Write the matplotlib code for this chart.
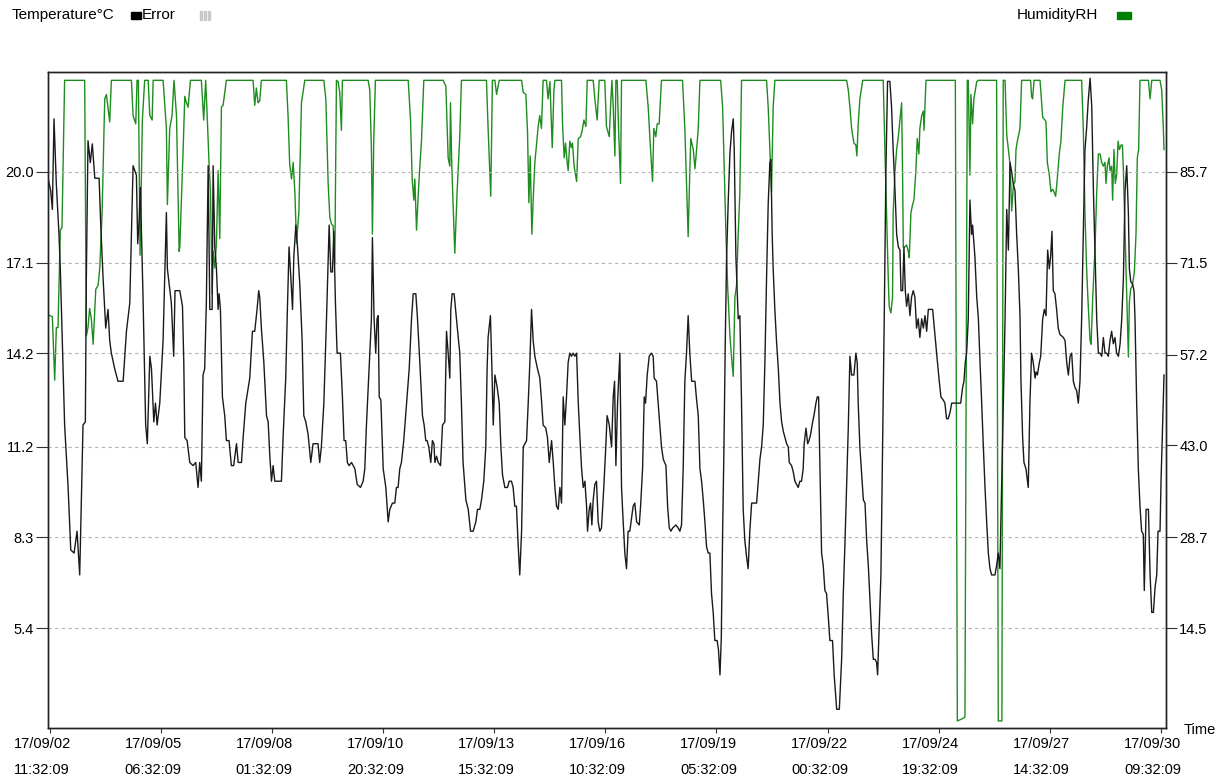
import matplotlib
matplotlib.use("Agg")
import matplotlib.pyplot as plt
import matplotlib.transforms as mtransforms
from matplotlib.patches import Rectangle
from datetime import datetime, timedelta

plt.rcParams['font.family'] = ['Liberation Sans', 'DejaVu Sans']

# hours after 17/09/02 11:32:09
temp_hours = [
    -1.3, 0.3, 1.3, 2.3, 3.7, 5.3, 6.1, 8.7, 10.8, 12.4,
    14.4, 16.2, 17.8, 19.8, 21.2, 21.8, 22.8, 24.2, 25.4, 26.9,
    29.5, 30.5, 31.9, 33.5, 34.9, 35.9, 36.9, 38.9, 40.9, 44.0,
    46.0, 48.0, 50.0, 52.0, 52.8, 53.6, 54.4, 56.0, 57.6, 58.6,
    60.1, 61.1, 62.5, 63.5, 64.5, 66.1, 68.1, 70.1, 70.7, 73.1,
    74.5, 75.3, 77.8,
    78.2, 79.8, 80.6, 81.2, 82.6, 84.2, 86.2, 87.8, 89.2, 90.2,
    91.2, 92.2, 93.2, 94.2, 95.3, 96.3, 97.7, 98.3, 99.3, 100.3,
    101.3, 101.9, 102.7, 103.9, 105.3, 106.3, 107.9, 109.3, 110.7, 112.4,
    113.4, 115.4, 116.4, 118.0, 120.4, 122.0, 123.4, 124.8, 125.8, 126.4,
    127.4, 128.9, 130.5, 131.5, 132.5, 133.5, 134.5, 135.5, 139.5, 140.5,
    142.1, 143.1, 144.1, 145.2, 146.2, 147.0, 148.2, 149.2, 150.6, 152.0,
    153.0, 154.2, 155.6, 157.2, 158.6, 161.6,
    162.6, 163.6, 165.1, 166.7, 168.3, 169.3, 170.3, 171.1, 172.1, 173.1,
    175.1, 176.3, 177.3, 178.3, 179.3, 180.3, 181.8, 183.8, 185.2, 187.2,
    188.8, 189.8, 190.8, 192.4, 193.8, 194.4, 195.4, 196.4, 197.2, 197.9,
    198.5, 199.5, 200.9, 202.5, 203.9, 204.9, 206.5, 207.9, 208.9, 209.9,
    210.9, 211.9, 213.3, 215.0, 216.6, 218.0, 219.0, 220.6, 221.6, 223.0,
    224.6, 225.6, 226.6, 227.4, 228.4, 229.6, 230.6, 231.5, 232.1, 233.1,
    234.1, 235.5, 236.7, 238.1, 239.1, 240.1, 241.1, 241.7, 242.5, 243.7, 245.1,
    247.1, 248.1, 249.1, 250.8, 252.2, 253.6, 255.2, 256.8, 257.8, 259.2,
    260.2, 261.6, 262.8, 263.6, 264.2, 265.6, 266.4, 267.3, 268.3, 269.7,
    270.9, 271.9, 272.9, 274.3, 275.9, 276.9, 278.3, 279.3, 280.3, 281.3,
    282.3, 283.3, 284.4, 285.4, 286.4, 287.4, 288.4, 289.4, 290.4, 291.4,
    292.4, 294.0, 295.4, 296.4, 297.4, 299.0, 300.0, 301.1, 302.5, 303.5,
    304.5, 305.5, 306.5, 307.5, 308.5, 309.5, 310.5, 311.5, 312.5, 313.5,
    314.5, 315.5, 316.5, 317.6, 318.6, 319.6, 320.6, 321.6, 322.6, 323.6,
    324.2, 325.2, 326.0, 326.8, 327.6, 328.6, 329.6, 330.6,
    331.6, 332.6, 334.0, 335.2, 336.0, 337.3, 338.7, 339.7, 340.5, 341.3,
    342.3, 343.7, 344.7, 345.7, 346.7, 347.7, 348.7, 349.7, 350.7, 351.7,
    352.7, 353.8, 355.4, 356.2, 357.4, 358.4, 359.2, 360.2, 361.4, 362.8,
    363.8, 364.4, 365.8, 366.8, 367.8, 368.8, 369.9, 371.5, 372.5, 373.5,
    374.5, 375.5, 377.5, 378.9, 379.9, 380.9, 381.9, 382.9, 383.9, 384.9,
    385.9, 387.0, 388.0, 389.0, 390.0, 391.0, 392.0, 393.0, 394.0, 395.0,
    396.0, 397.0, 398.0, 399.0, 400.0, 401.0, 402.4, 403.2, 404.1, 404.9,
    405.7, 406.5, 407.3, 408.1, 409.1, 410.1, 411.1, 412.1, 412.7, 413.7, 415.1,
    416.1, 417.1, 418.1, 419.1, 420.1, 421.1, 422.1, 423.2, 426.2, 427.2,
    428.2, 429.2, 430.2, 431.2, 432.2, 433.2, 434.2, 434.8, 435.6, 436.2,
    437.2, 438.2, 439.3, 440.3, 441.3, 442.3, 443.3, 444.3, 445.3, 445.9,
    447.3, 448.3, 449.3, 450.3, 451.3, 452.3, 453.3, 454.3, 454.9, 456.0,
    457.0, 457.8, 458.8, 460.0, 460.8, 462.0, 462.8, 463.6, 464.4, 465.4,
    466.4, 467.4, 468.4, 469.4, 470.4, 472.0, 473.0, 474.5, 476.1, 477.5,
    478.5, 479.5, 480.5, 481.5, 482.5, 483.5, 484.9, 486.1, 486.9, 487.5,
    488.5, 489.5, 490.6, 491.6, 492.6, 493.6, 494.6, 495.6, 496.6, 497.6, 498.6, 499.2,
    501.2, 502.2, 503.2, 504.2, 505.2, 506.6, 507.6, 508.6, 509.7, 510.7,
    511.7, 512.7, 513.3, 514.3, 515.1, 515.9, 516.7, 517.7, 518.7, 519.7,
    520.7, 521.7, 522.7, 523.7, 524.7, 525.8, 526.8, 527.8, 528.8, 529.8,
    530.8, 532.4, 533.4, 534.8, 536.4, 537.4, 538.8, 539.8, 540.8, 541.8,
    542.9, 543.9, 549.3, 550.5, 551.3, 552.1, 552.9, 553.9, 554.9, 555.9,
    556.5, 557.9, 559.0, 560.0, 561.0, 562.0, 563.0, 564.0, 565.0, 566.0,
    567.0, 568.0, 570.0, 571.0, 572.0, 573.0, 574.0, 575.0, 576.1, 577.1,
    578.1, 579.1, 580.1, 581.1, 582.1, 583.1, 584.1,
    585.1, 585.7, 586.7, 587.5, 588.7, 590.1, 591.1, 592.1, 593.1, 594.2,
    594.8, 595.6, 596.8, 597.6, 598.8, 599.8, 600.8, 601.8, 602.8, 603.6,
    604.4, 605.2, 606.2, 607.2, 608.2, 609.2, 611.3, 612.3, 613.3, 614.3,
    615.3, 616.3, 617.3, 618.3, 619.3, 620.3, 621.3, 622.3, 623.3, 624.3,
    625.3, 626.3, 627.4, 628.4, 629.4, 630.4, 631.4, 632.4, 633.4, 634.4,
    635.4, 636.4, 637.4, 638.4, 639.4, 640.4, 641.4, 642.4, 643.4, 644.5,
    645.5, 646.5, 647.5, 648.5, 649.5, 650.5, 651.1, 651.9, 653.1, 653.9,
    654.5, 655.5, 656.5, 657.5, 658.5, 659.5, 660.1, 661.2, 662.6, 663.6,
    664.6, 665.6, 666.6, 667.6, 668.4, 669.6, 670.2, 671.0, 672.0,
]
temp_c = [
    19.8, 19.4, 18.8, 21.7, 19.6, 18.0, 16.9, 11.9, 9.9, 7.9,
    7.8, 8.5, 7.1, 11.9, 12.0, 16.6, 21.0, 20.3, 20.9, 19.8,
    19.8, 18.3, 16.6, 15.0, 15.6, 14.6, 14.2, 13.7, 13.3, 13.3,
    14.9, 15.8, 20.2, 19.9, 17.7, 18.4, 19.5, 16.0, 11.9, 11.3,
    14.1, 13.7, 12.0, 12.6, 11.9, 12.6, 14.6, 18.7, 16.9, 15.8,
    14.1, 16.2, 16.2,
    16.2, 15.7, 13.9, 11.5, 11.4, 10.7, 10.6, 10.7, 9.9, 10.7,
    10.1, 13.5, 13.7, 15.8, 20.2, 15.6, 15.6, 20.2, 17.6, 16.9,
    15.6, 16.1, 15.6, 12.8, 12.2, 11.4, 11.4, 10.6, 10.6, 11.3,
    10.7, 10.7, 11.5, 12.6, 13.4, 14.9, 14.9, 15.6, 16.2, 16.0,
    15.0, 13.9, 12.2, 12.0, 10.9, 10.1, 10.6, 10.1, 10.1, 11.5,
    13.4, 15.6, 17.6, 16.6, 15.6, 17.3, 18.3, 17.6, 16.4, 14.6,
    12.2, 12.0, 11.6, 10.7, 11.3, 11.3,
    10.7, 11.2, 12.6, 15.3, 18.3, 16.8, 16.8, 18.1, 15.8, 14.2,
    14.2, 12.8, 11.4, 11.4, 10.7, 10.6, 10.7, 10.5, 10.0, 9.9,
    10.1, 10.5, 11.9, 13.7, 15.3, 17.9, 15.3, 14.2, 15.3, 15.4,
    12.8, 12.7, 10.5, 9.9, 8.8, 9.2, 9.4, 9.4, 9.9, 9.9,
    10.5, 10.7, 11.4, 12.6, 13.7, 15.3, 16.1, 16.1, 15.3, 13.9,
    12.2, 11.9, 11.4, 11.4, 11.2, 10.7, 11.4, 11.3, 10.7, 10.9,
    10.7, 10.6, 11.9, 12.0, 14.9, 14.2, 13.4, 15.6, 16.1, 16.1, 15.3,
    14.2, 12.6, 10.7, 9.5, 9.2, 8.5, 8.5, 8.8, 9.2, 9.2,
    9.5, 10.1, 11.2, 13.7, 14.7, 15.4, 13.9, 11.9, 13.5, 13.1,
    12.6, 11.2, 10.3, 9.9, 9.9, 10.1, 10.1, 9.9, 9.3, 9.3,
    8.1, 7.1, 8.5, 11.2, 11.3, 11.4, 12.6, 13.9, 15.6, 14.6,
    14.1, 13.7, 13.4, 12.7, 11.9, 11.8, 11.5, 10.7, 11.4, 10.7,
    9.9, 9.3, 9.2, 9.9, 9.4, 12.8, 11.9, 12.8, 13.9, 14.2,
    14.1, 14.2, 14.1, 14.2, 12.6, 11.5, 10.5, 9.9, 10.1, 9.3,
    8.5, 9.2, 9.4, 8.7, 9.5, 10.0, 10.1, 8.8,
    8.5, 8.6, 9.9, 11.2, 12.2, 11.9, 11.2, 12.8, 13.3, 10.6,
    12.6, 14.2, 9.9, 8.8, 7.8, 7.3, 8.5, 8.5, 8.9, 9.3,
    9.4, 8.8, 8.7, 9.3, 10.5, 12.8, 12.6, 13.5, 14.1, 14.2,
    14.1, 13.4, 13.3, 12.6, 11.9, 11.2, 10.8, 10.6, 9.3, 8.6,
    8.5, 8.6, 8.7, 8.6, 8.5, 8.7, 10.5, 13.3, 14.2, 15.4,
    14.2, 13.3, 13.3, 13.3, 12.7, 12.2, 10.5, 10.1, 9.5, 8.8,
    8.0, 7.8, 7.8, 6.5, 5.9, 5.0, 5.0, 4.7, 3.9, 5.1,
    8.5, 11.2, 14.6, 17.3, 19.1, 20.6, 21.3, 21.7, 20.7, 17.3, 15.3,
    15.4, 12.6, 9.2, 8.2, 7.7, 7.3, 8.5, 9.4, 9.4, 10.1,
    10.8, 11.2, 11.9, 13.9, 16.6, 19.0, 20.3, 20.4, 18.0, 16.9,
    15.6, 14.6, 13.7, 12.6, 12.0, 11.7, 11.5, 11.3, 11.2, 10.7,
    10.6, 10.4, 10.1, 10.0, 9.9, 10.1, 10.1, 10.5, 11.3, 11.8,
    11.3, 11.4, 11.6, 12.0, 12.2, 12.6, 12.8, 12.8, 10.5, 7.8,
    7.4, 6.6, 6.5, 5.8, 5.0, 5.0, 3.9, 2.8, 2.8, 4.4,
    6.5, 8.1, 9.9, 11.8, 14.1, 13.5, 13.5, 14.2, 13.9, 12.6,
    11.2, 10.4, 9.5, 9.4, 8.2, 7.4, 6.3, 5.2, 4.4, 4.4, 4.3, 3.9,
    7.1, 11.2, 15.3, 20.0, 22.9, 22.9, 22.1, 20.7, 19.4, 18.0,
    17.6, 17.5, 16.2, 16.2, 17.6, 16.2, 15.7, 16.1, 15.4, 16.0,
    16.2, 16.0, 15.0, 15.3, 14.7, 15.3, 15.0, 15.4, 14.9, 15.6,
    15.6, 15.6, 15.0, 14.2, 13.3, 12.8, 12.7, 12.6, 12.1, 12.1,
    12.3, 12.6, 12.6, 13.1, 13.3, 13.9, 14.2, 15.3, 19.1, 18.0,
    18.3, 17.3, 16.0, 15.3, 13.9, 12.6, 11.2, 9.9, 8.8, 7.8,
    7.3, 7.1, 7.1, 7.4, 7.8, 7.3, 9.9, 12.6, 15.3, 18.8,
    17.5, 20.3, 20.0, 19.6, 19.4, 18.0, 16.9,
    15.4, 13.3, 11.5, 10.7, 10.5, 9.9, 12.6, 14.2, 13.9, 13.4,
    13.6, 13.5, 13.9, 14.1, 15.3, 15.6, 15.4, 17.5, 16.9, 17.3,
    18.1, 16.2, 16.1, 15.6, 15.0, 14.8, 14.7, 14.6, 13.9, 13.5,
    14.1, 14.2, 13.3, 13.1, 13.0, 12.6, 13.3, 15.3, 18.0, 20.7,
    21.4, 22.3, 23.0, 22.1, 19.4, 17.3, 15.3, 14.2, 14.2, 14.1,
    14.7, 14.2, 14.2, 14.1, 14.6, 14.9, 14.5, 14.7, 14.2, 14.1,
    14.5, 15.3, 16.6, 19.4, 20.2, 18.7, 16.9, 16.5, 16.4, 16.2,
    15.3, 12.6, 10.5, 9.3, 8.5, 8.4, 6.6, 9.2, 9.2, 7.1,
    5.9, 5.9, 6.7, 7.1, 8.5, 8.5, 10.1, 11.6, 13.5,
]

hum_hours = [
    -1.3, 1.3, 2.7, 3.7, 4.7, 6.1, 7.1, 8.7, 20.8, 21.8,
    22.8, 23.8, 24.8, 25.9, 27.5, 28.9, 29.9, 31.3, 32.9, 33.9,
    35.9, 36.9, 49.0, 50.0, 51.6, 52.4, 53.2, 54.2, 55.6, 57.0,
    59.1, 60.1, 61.5, 62.1, 68.1, 70.1, 70.7, 72.1, 73.5, 74.7,
    76.2, 77.8,
    78.2, 80.2, 81.2, 82.2, 83.2, 84.6, 91.2, 92.6, 93.8, 94.6,
    95.9, 96.7, 97.7, 98.3, 99.3, 100.3, 101.3, 102.3, 103.3, 104.3,
    106.3, 122.4, 123.4, 124.4, 125.4, 126.4, 127.4, 142.5, 143.5, 144.5,
    145.6, 146.6, 147.6, 148.6, 150.0, 151.6, 153.6,
    165.1, 166.3, 167.7, 168.7, 169.7, 170.7, 171.7, 172.7, 173.7, 174.7,
    175.7, 176.3, 191.8, 192.8, 193.8, 194.4, 195.2, 196.2, 216.0, 217.4,
    218.4, 219.4, 220.0, 221.0, 222.0, 223.0, 224.0, 225.4, 237.1, 238.7,
    240.1, 241.1, 241.5, 242.3, 244.1, 245.5, 247.1,
    248.1, 263.2, 264.2, 265.8, 266.8, 268.3, 269.3, 270.9, 284.4, 285.4,
    287.0, 288.0, 288.8, 289.6, 290.6, 291.4, 292.4, 293.4, 294.4, 295.4,
    296.4, 297.4, 299.4, 300.4, 301.5, 302.9, 303.9, 304.5, 308.5, 309.1,
    310.1, 310.9, 311.9, 312.5, 313.5, 314.5, 315.1, 316.1, 317.6, 318.6,
    320.0, 321.0, 322.0, 323.2, 324.0, 327.6, 328.6, 330.0, 331.2,
    334.6, 335.6, 337.3, 338.3, 338.9, 339.7, 340.7, 341.3, 342.1, 342.9,
    344.1, 344.7, 359.4, 360.8, 362.2, 363.4, 364.2, 365.4, 366.2, 367.4,
    368.8, 381.5, 382.9, 383.9, 384.9, 385.9, 386.5, 388.0, 389.0, 390.0,
    391.0, 392.0, 404.5, 405.7, 406.7, 407.7, 408.7, 410.1, 411.3, 412.1,
    413.1, 414.1, 415.1, 416.1, 417.1,
    432.2, 433.2, 434.2, 435.2, 436.2, 437.2, 480.5, 481.5, 482.5, 483.5,
    484.9, 486.1, 486.7, 487.5, 488.5, 490.2,
    502.6, 503.6, 504.6, 505.6, 506.2, 507.2, 508.2, 508.6, 509.7, 510.7,
    511.7, 512.7, 513.7, 514.3, 514.7, 515.7, 516.7, 517.7, 518.3, 519.3,
    520.3, 521.1, 522.3, 523.1, 524.1, 524.7, 525.8, 526.8, 527.2, 528.4,
    546.1, 547.3, 549.9, 551.9, 553.3, 553.9, 554.9, 555.5, 556.5, 557.3,
    559.0, 560.0, 571.0, 572.0, 573.4, 574.2, 575.0, 576.1, 577.1, 578.1,
    579.1, 580.1, 581.1, 582.1, 582.7, 583.5, 585.1,
    586.1, 591.5, 592.1, 592.7, 593.6, 597.2, 598.8, 600.2, 600.8, 601.6,
    602.8, 603.8, 604.8, 605.6, 606.6, 607.6, 608.8, 609.8, 610.9, 612.3,
    622.3, 623.3, 624.3, 625.3, 626.3, 627.4, 628.0, 629.0, 630.4, 631.4,
    632.4, 633.4, 634.4, 635.4, 636.4, 637.0, 637.8, 638.8, 639.4, 640.4,
    641.0, 641.8, 642.6, 643.4, 644.3, 645.1, 646.1, 646.9, 647.5, 648.5,
    649.5, 650.5, 651.1, 651.9, 652.9, 654.1, 655.1, 655.9, 656.7, 657.5,
    662.6, 663.6, 664.6, 669.6, 670.6, 671.6, 672.0,
]
hum_rh = [
    63.4, 63.1, 53.2, 61.4, 61.4, 76.6, 77.0, 100, 100, 60.1,
    61.4, 64.4, 62.8, 58.8, 67.4, 68.0, 70.7, 79.3, 97.1, 97.8,
    93.5, 100, 100, 94.5, 93.2, 100, 100, 72.7, 93.8, 100,
    100, 94.5, 93.8, 100, 100, 92.5, 80.6, 92.5, 94.5, 100,
    94.5, 73.3,
    74.0, 89.2, 97.5, 96.5, 95.8, 100, 100, 93.8, 100, 95.2,
    86.6, 82.6, 66.7, 73.3, 70.7, 74.6, 85.9, 75.3, 95.8, 96.1,
    100, 100, 96.1, 98.8, 96.5, 96.8, 100, 100, 94.5, 86.9,
    84.6, 87.2, 82.6, 74.6, 79.3, 96.5, 100,
    100, 97.1, 83.9, 78.6, 77.6, 77.3, 71.3, 100, 99.8, 98.1,
    92.2, 100, 100, 98.5, 89.2, 76.0, 90.5, 100, 100, 93.8,
    84.6, 81.3, 84.6, 76.6, 81.9, 86.6, 90.5, 100, 100, 99.1,
    87.9, 86.6, 96.5, 86.6, 73.0, 82.6, 91.2,
    100, 100, 92.5, 81.9, 100, 100, 97.8, 100, 100, 98.1,
    97.8, 91.8, 80.9, 88.2, 76.0, 81.3, 87.2, 89.9, 92.8, 94.5,
    92.5, 100, 100, 97.1, 99.8, 89.5, 98.5, 100, 100, 93.2,
    87.9, 90.2, 87.2, 85.9, 90.5, 89.5, 90.2, 86.6, 84.2, 90.9,
    91.2, 92.2, 93.8, 92.8, 100, 100, 97.1, 93.8, 100,
    100, 92.8, 91.2, 97.1, 100, 95.8, 88.2, 100, 100, 92.5,
    83.9, 100, 100, 95.8, 89.2, 84.2, 92.5, 91.2, 93.2, 93.2,
    100, 100, 92.5, 83.9, 75.6, 85.9, 90.9, 89.2, 86.2, 89.2,
    92.5, 100, 100, 95.8, 85.9, 76.0, 68.0, 60.1, 56.1, 53.8,
    66.1, 68.0, 76.0, 82.6, 100,
    100, 95.8, 89.2, 82.6, 95.8, 100, 100, 98.5, 95.8, 92.5,
    90.2, 89.9, 88.2, 93.2, 97.1, 100,
    100, 89.2, 79.3, 69.3, 64.7, 63.7, 66.1, 79.3, 85.9, 89.2,
    91.2, 93.8, 96.5, 84.6, 74.0, 74.0, 74.3, 73.3, 72.3, 79.3,
    80.6, 81.3, 85.9, 90.9, 88.5, 92.5, 94.5, 95.2, 92.2, 100,
    100, 0.0, 0.3, 0.6, 100, 100, 85.2, 97.8, 93.2, 97.1,
    99.8, 100, 100, 0.0, 0.0, 0.0, 100, 100, 91.5, 89.2,
    86.9, 79.6, 83.6, 84.2, 89.2, 90.5, 92.5,
    100, 100, 97.5, 97.1, 100, 100, 94.2, 93.8, 93.5, 87.2,
    85.2, 82.6, 83.0, 82.6, 81.9, 84.6, 88.5, 90.5, 95.8, 100,
    100, 92.5, 79.3, 70.7, 64.7, 59.4, 58.8, 66.1, 74.0, 82.6,
    88.5, 88.5, 87.2, 86.6, 87.2, 83.9, 86.6, 87.9, 85.9, 86.6,
    81.3, 89.2, 83.9, 85.2, 90.5, 89.2, 89.9, 89.9, 85.9, 76.0,
    66.1, 56.8, 65.4, 67.4, 68.0, 70.0, 76.0, 87.9, 89.2, 100,
    100, 97.1, 100, 100, 98.5, 92.5, 89.2,
]

temp_ticks = [5.4, 8.3, 11.2, 14.2, 17.1, 20.0]
hum_ticks = [14.5, 28.7, 43.0, 57.2, 71.5, 85.7]
start_time = datetime(2017, 9, 2, 11, 32, 9)
tick_step_h = 67
tick_hours = [tick_step_h * k for k in range(11)]
tick_labels = [(start_time + timedelta(hours=h)).strftime('%y/%m/%d\n%H:%M:%S') for h in tick_hours]

W, H = 1225, 778
GREEN = '#1e8c1e'
FS = 10.5
fig = plt.figure(figsize=(W / 100, H / 100), dpi=100)
ax = fig.add_axes([48 / W, 1 - 728 / H, (1166 - 48) / W, (728 - 72) / H])
ax2 = ax.twinx()

ax2.plot(hum_hours, hum_rh, color=GREEN, lw=1.0)
ax.plot(temp_hours, temp_c, color='#1a1a1a', lw=1.0)
ax.set_zorder(ax2.get_zorder() + 1)
ax.patch.set_visible(False)

ax.set_xlim(-1.33, 673.2)
ax.set_ylim(2.2, 23.2)
ax2.set_ylim(-1.1, 101.3)

ax.set_xticks(tick_hours)
ax.set_xticklabels(tick_labels, linespacing=2.05)
ax.set_yticks(temp_ticks)
ax.set_yticklabels([f'{v:.1f}' for v in temp_ticks])
ax2.set_yticks(hum_ticks)
ax2.set_yticklabels([f'{v:.1f}' for v in hum_ticks])

ax.tick_params(axis='x', length=3.6, pad=3, labelsize=FS, color='#333333')
ax.tick_params(axis='y', length=9, pad=1, labelsize=FS, color='#333333')
ax2.tick_params(axis='y', length=8, pad=1.5, labelsize=FS, color='#333333')

# date labels sit a little left of their tick
shift = mtransforms.ScaledTranslation(-8 / 100, 0, fig.dpi_scale_trans)
for lbl in ax.get_xticklabels():
    lbl.set_transform(lbl.get_transform() + shift)

ax.yaxis.grid(True, linestyle=(0, (3, 3)), color='#b4b4b4', lw=0.8)
for a in (ax, ax2):
    for s in a.spines.values():
        s.set_color('#222222')
        s.set_linewidth(1.0)

def fx(px):
    return px / W

def fy(py):
    return 1 - py / H

# header legends
fig.text(fx(12), fy(15), 'Temperature°C', fontsize=11, va='center', ha='left')
fig.patches.append(Rectangle((fx(131), fy(19)), 10 / W, 7 / H, color='black', transform=fig.transFigure))
fig.text(fx(142), fy(15), 'Error', fontsize=11, va='center', ha='left')
for i in range(3):
    fig.patches.append(Rectangle((fx(200 + i * 4), fy(20)), 2 / W, 9 / H,
                                 color='#c8c8c8', transform=fig.transFigure))
fig.text(fx(1017), fy(15), 'HumidityRH', fontsize=11, va='center', ha='left')
fig.patches.append(Rectangle((fx(1117), fy(19)), 14 / W, 7 / H, color='#008000', transform=fig.transFigure))

fig.text(fx(1200), fy(730), 'Time', fontsize=FS, va='center', ha='center')

fig.savefig('out.png', dpi=100)
